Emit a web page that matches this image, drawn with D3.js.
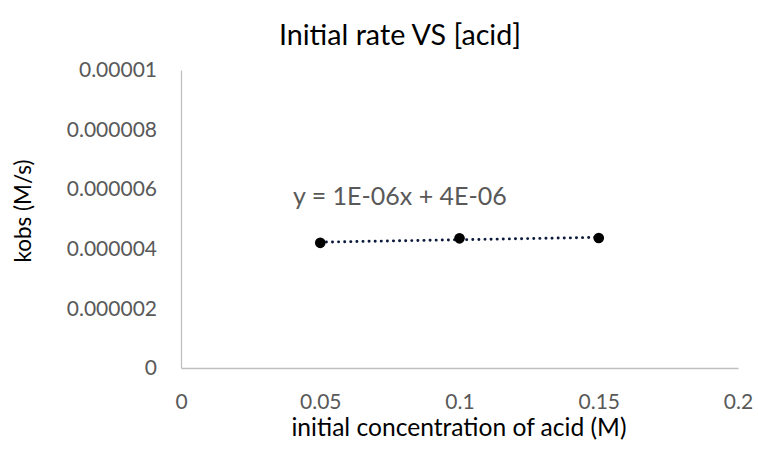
<!DOCTYPE html>
<html><head><meta charset="utf-8">
<script src="https://cdn.jsdelivr.net/npm/d3@7"></script>
<style>body{margin:0;background:#fff}svg{display:block}text{font-family:Lato,"Open Sans",sans-serif}</style>
</head><body>
<svg id="c" width="758" height="450"></svg>
<script>
const xValues = [0.05, 0.1, 0.15];
const kobs = [4.2e-6, 4.35e-6, 4.36e-6];
const xTicks = [0, 0.05, 0.1, 0.15, 0.2];
const yTicks = [0, 2e-6, 4e-6, 6e-6, 8e-6, 1e-5];
const yTickLabels = ["0", "0.000002", "0.000004", "0.000006", "0.000008", "0.00001"];
const title = "Initial rate VS [acid]";
const xTitle = "initial concentration of acid (M)";
const yTitle = "kobs (M/s)";
const equation = "y = 1E-06x + 4E-06";

const svg = d3.select("#c");
const m = {l:181, r:738, t:70, b:368};
const x = d3.scaleLinear().domain([0,0.2]).range([m.l, m.r]);
const y = d3.scaleLinear().domain([0,1e-5]).range([m.b, m.t]);
const FF = "Lato,'Open Sans',sans-serif";

svg.append("text").attr("x",400).attr("y",45).attr("text-anchor","middle")
  .style("font-size","28.7px").style("font-family",FF).attr("fill","#000").text(title);

const xa = svg.append("g").attr("transform",`translate(0,${m.b})`)
  .call(d3.axisBottom(x).tickValues(xTicks).tickSize(0).tickFormat(d=>String(d)));
xa.select(".domain").attr("stroke","#bfbfbf").attr("stroke-width",1.3);
xa.selectAll("text").attr("y",41).attr("dy","0").style("font-size","21px").style("font-family",FF).attr("fill","#595959");

const ya = svg.append("g").attr("transform",`translate(${m.l},0)`)
  .call(d3.axisLeft(y).tickValues(yTicks).tickSize(0).tickPadding(24).tickFormat((d,i)=>yTickLabels[i]));
ya.select(".domain").attr("stroke","#bfbfbf").attr("stroke-width",1.3);
ya.selectAll("text").style("font-size","21px").style("font-family",FF).attr("fill","#595959");

svg.append("text").attr("x",459).attr("y",436).attr("text-anchor","middle")
  .style("font-size","24.6px").style("font-family",FF).attr("fill","#000").text(xTitle);
svg.append("text").attr("transform","translate(31,211) rotate(-90)").attr("text-anchor","middle")
  .style("font-size","22.5px").style("font-family",FF).attr("fill","#000").text(yTitle);

// linear regression trendline
const mx = d3.mean(xValues), my = d3.mean(kobs);
const slope = d3.sum(xValues.map((v,i)=>(v-mx)*(kobs[i]-my))) / d3.sum(xValues.map(v=>(v-mx)**2));
const icpt = my - slope*mx;
const x0 = d3.min(xValues), x1 = d3.max(xValues);
svg.append("line").attr("x1",x(x0)).attr("y1",y(slope*x0+icpt)).attr("x2",x(x1)).attr("y2",y(slope*x1+icpt))
  .attr("stroke","#0b1a3a").attr("stroke-width",2.9).attr("stroke-dasharray","0.1,6").attr("stroke-linecap","round");

svg.append("g").selectAll("circle").data(xValues).join("circle")
  .attr("cx",(d)=>x(d)).attr("cy",(d,i)=>y(kobs[i])).attr("r",5.3).attr("fill","#000");

svg.append("text").attr("x",293).attr("y",205).style("font-size","25px").style("font-family",FF).attr("fill","#595959").text(equation);
</script>
</body></html>
